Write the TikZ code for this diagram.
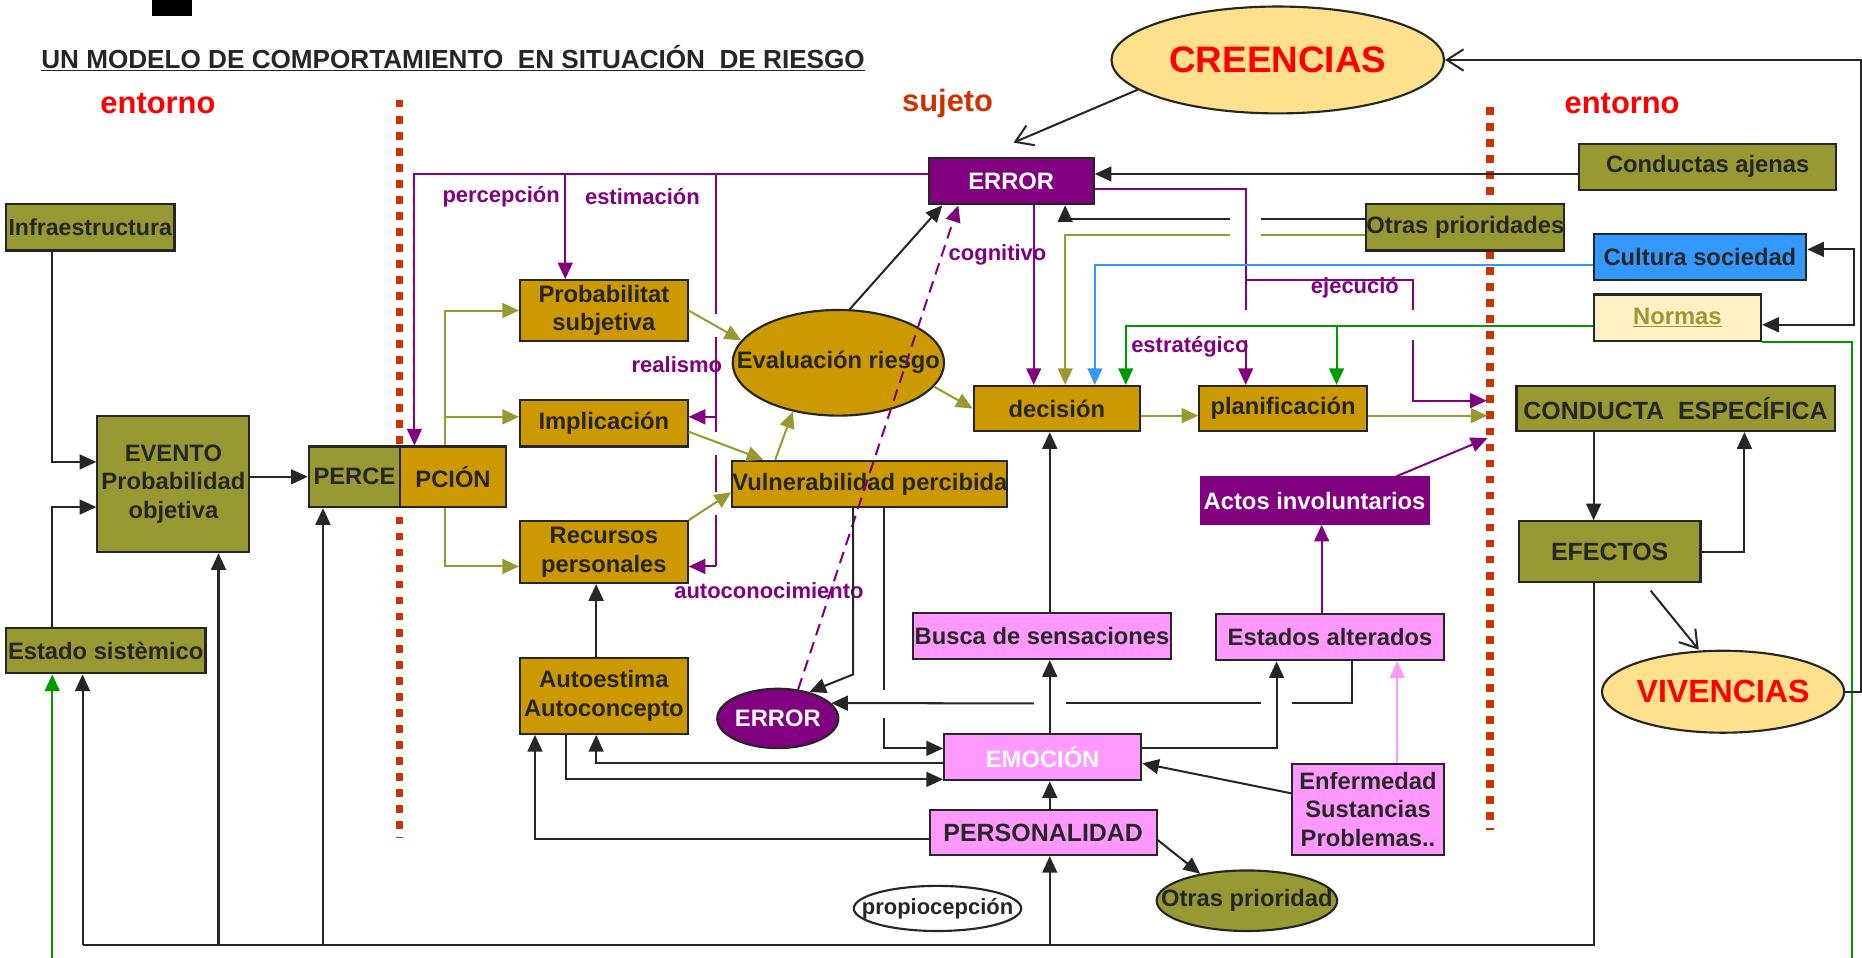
\documentclass[tikz,border=0pt]{standalone}
\usepackage{fontspec}
\setmainfont{Liberation Sans}
\usetikzlibrary{arrows.meta,shapes.geometric}
\definecolor{tinta}{HTML}{262626}
\definecolor{colOlivo}{HTML}{999933}
\definecolor{colDorado}{HTML}{CC9900}
\definecolor{colRosa}{HTML}{FF99FF}
\definecolor{colMorado}{HTML}{800080}
\definecolor{colAzul}{HTML}{3399FF}
\definecolor{colVerde}{HTML}{009900}
\definecolor{colCrema}{HTML}{FFE08C}
\definecolor{colNormas}{HTML}{FFF1C4}
\definecolor{colTeja}{HTML}{CC3300}
\newcommand{\centrado}[1]{\makebox[0pt]{#1}}

\begin{document}
\begin{tikzpicture}[x=1pt,y=-1pt,
		caja/.style={draw=tinta,line width=1.8pt,text=tinta,align=center,inner sep=0pt,font=\bfseries\fontsize{20}{24}\selectfont},
		olivo/.style={caja,fill=colOlivo},
		dorado/.style={caja,fill=colDorado},
		rosado/.style={caja,fill=colRosa},
		morado/.style={caja,fill=colMorado,text=white},
		ovalo/.style={caja,ellipse},
		linea/.style={draw=tinta,line width=1.7pt},
		flecha/.style={linea,-{Triangle[length=14pt,width=12.5pt]}},
		abierta/.style={linea,-{Straight Barb[length=14pt,width=18pt]}},
		plinea/.style={linea,draw=colMorado},
		pflecha/.style={flecha,draw=colMorado},
		oflecha/.style={flecha,draw=colOlivo},
		vflecha/.style={flecha,draw=colVerde},
		rotulo/.style={text=colMorado,inner sep=0pt,font=\bfseries\fontsize{18.5}{20}\selectfont},
		rojo/.style={text=red,inner sep=0pt,font=\bfseries\fontsize{26}{28}\selectfont},
		puntos/.style={draw=colTeja,line width=6.5pt,dash pattern=on 6.5pt off 7pt}]
		\useasboundingbox (0,0) rectangle (1568,806);
		\fill[black] (128,0) rectangle (161.5,13.5);
		\node[anchor=west,inner sep=0pt,text=tinta,font=\bfseries\fontsize{22}{24}\selectfont] (titulo) at (34.6,49) {\underline{UN MODELO DE COMPORTAMIENTO\ \ EN SITUACIÓN\ \ DE RIESGO}};
		\node[rojo] (entIzq) at (133,87) {entorno};
		\node[rojo,text=colTeja] (sujeto) at (798,87) {sujeto};
		\node[rojo] (entDer) at (1366,87) {entorno};
		%
		\draw[puntos] (336.5,84) -- (336.5,706);
		\draw[puntos] (1255,90) -- (1255,699);
		%
		\node[ovalo,fill=colCrema,minimum width=280pt,minimum height=90pt,text=red,font=\bfseries\fontsize{31}{34}\selectfont] (cree) at (1076,50.5) {\centrado{CREENCIAS}};
		\node[morado,minimum width=139pt,minimum height=39pt] (err) at (851.5,152.5) {ERROR};
		\node[olivo,minimum width=216pt,minimum height=39pt] (ajenas) at (1438,140.5) {Conductas ajenas};
		\node[olivo,minimum width=166pt,minimum height=39pt] (otras) at (1234,191.5) {Otras prioridades};
		\node[caja,fill=colAzul,minimum width=179pt,minimum height=39pt] (cult) at (1431.5,216.5) {Cultura sociedad};
		\node[caja,fill=colNormas,text=colOlivo,minimum width=141pt,minimum height=39pt] (normas) at (1412.5,267.5) {\underline{Normas}};
		\node[olivo,minimum width=268pt,minimum height=38pt,font=\bfseries\fontsize{21}{24}\selectfont] (cond) at (1411,344) {CONDUCTA\ \ ESPECÍFICA};
		\node[olivo,minimum width=153pt,minimum height=51pt,font=\bfseries\fontsize{21}{24}\selectfont] (efec) at (1355.5,464.5) {EFECTOS};
		\node[ovalo,fill=colCrema,minimum width=204pt,minimum height=69pt,text=red,font=\bfseries\fontsize{27}{30}\selectfont] (viv) at (1451,582.5) {\centrado{VIVENCIAS}};
		%
		\node[olivo,minimum width=142pt,minimum height=39pt,font=\bfseries\fontsize{19.5}{24}\selectfont] (infra) at (76,191.5) {Infraestructura};
		\node[olivo,minimum width=128pt,minimum height=115pt] (evento) at (146,407.5) {EVENTO\\Probabilidad\\objetiva};
		\node[olivo,minimum width=168pt,minimum height=38pt] (estado) at (89,548) {Estado sistèmico};
		\node[olivo,minimum width=77pt,minimum height=51pt] (perce) at (298.5,401.5) {PERCE};
		\node[dorado,minimum width=89pt,minimum height=51pt] (pcion) at (381.5,401.5) {PCIÓN};
		%
		\node[dorado,minimum width=141pt,minimum height=51pt] (prob) at (508.5,261.5) {Probabilitat\\subjetiva};
		\node[dorado,minimum width=141pt,minimum height=39pt] (impl) at (508.5,356.5) {Implicación};
		\node[dorado,minimum width=141pt,minimum height=52pt] (recur) at (508.5,465) {Recursos\\personales};
		\node[dorado,minimum width=141pt,minimum height=64pt] (autoe) at (508.5,586) {Autoestima\\Autoconcepto};
		\node[ovalo,fill=colDorado,minimum width=178pt,minimum height=89pt] (eval) at (706,305.5) {\centrado{Evaluación riesgo}};
		\node[dorado,minimum width=229pt,minimum height=39pt] (vuln) at (732.5,407.5) {Vulnerabilidad percibida};
		\node[ovalo,fill=colMorado,text=white,minimum width=102pt,minimum height=50pt] (errb) at (655,605) {\centrado{ERROR}};
		\node[dorado,minimum width=140pt,minimum height=38pt] (dec) at (890,344) {decisión};
		\node[dorado,minimum width=141pt,minimum height=38pt] (plan) at (1080.5,344) {planificación};
		%
		\node[morado,draw=colMorado,minimum width=192pt,minimum height=39pt] (actos) at (1107,421.5) {Actos involuntarios};
		\node[rosado,minimum width=217pt,minimum height=39pt] (busca) at (877.5,535.5) {Busca de sensaciones};
		\node[rosado,minimum width=192pt,minimum height=39pt] (estal) at (1120,536.5) {Estados alterados};
		\node[rosado,text=white,minimum width=166pt,minimum height=39pt] (emo) at (878,637.5) {EMOCIÓN};
		\node[rosado,minimum width=191pt,minimum height=38pt,font=\bfseries\fontsize{21}{24}\selectfont] (pers) at (878.5,701) {PERSONALIDAD};
		\node[rosado,minimum width=128pt,minimum height=77pt] (enf) at (1152,681.5) {Enfermedad\\Sustancias\\Problemas..};
		\node[ovalo,fill=colOlivo,minimum width=152pt,minimum height=51pt] (otrp) at (1050,758.5) {\centrado{Otras prioridad}};
		\node[ovalo,fill=white,minimum width=141pt,minimum height=38pt,font=\bfseries\fontsize{18.5}{20}\selectfont] (prop) at (789.5,765) {\centrado{propiocepción}};
		%
		\node[rotulo] (lPer) at (422,165.5) {percepción};
		\node[rotulo] (lEst) at (541,165.5) {estimación};
		\node[rotulo] (lRea) at (570,307) {realismo};
		\node[rotulo] (lCog) at (840,215) {cognitivo};
		\node[rotulo] (lAut) at (647.5,497) {autoconocimiento};
		\node[rotulo] (lEstr) at (1002,292) {estratégico};
		\node[rotulo] (lEje) at (1141,242) {ejecució};
		%
		\draw[flecha] ([xshift=-32pt]infra.south) |- ([yshift=18.5pt]evento.west);
		\draw[flecha] ([xshift=-45pt]estado.north) |- ([yshift=-19.5pt]evento.west);
		\draw[flecha] (evento.east |- perce.west) -- (perce.west);
		\coordinate (rail) at (0,796);
		\coordinate (estB) at ([xshift=-19.5pt]estado.south);
		\coordinate (eveB) at ([xshift=38pt]evento.south);
		\coordinate (perB) at ([xshift=-26.5pt]perce.south);
		\coordinate (eje) at (884,796);
		\draw[linea] ([xshift=-13.5pt]efec.south) |- (estB |- rail);
		\draw[flecha] (estB |- rail) -- (estB);
		\draw[flecha] (eveB |- rail) -- (eveB);
		\draw[flecha] (perB |- rail) -- (perB);
		\draw[flecha] (eje) -- (eje |- pers.south);
		\draw[flecha] (pers.north -| eje) -- (emo.south -| eje);
		\draw[flecha] (emo.north -| eje) -- (busca.south -| eje);
		\draw[flecha] (busca.north -| eje) -- (dec.south -| eje);
		\draw[vflecha] (normas.south east) -| (1559.6,830) -| ([xshift=-45pt]estado.south);
		%
		\coordinate (pc) at ([xshift=-6.5pt]pcion.north);
		\coordinate (implIn) at ([yshift=5.5pt]impl.west);
		\coordinate (recIn) at ([yshift=-12pt]recur.west);
		\draw[oflecha] (pc) |- (prob.west);
		\draw[oflecha] (pc |- implIn) -- (implIn);
		\draw[oflecha] ([xshift=-6.5pt]pcion.south) |- (recIn);
		%
		\coordinate (errO) at ([yshift=6pt]err.west);
		\coordinate (probIn) at ([xshift=-32.5pt]prob.north);
		\draw[pflecha] (errO) -| ([xshift=-32.5pt]pcion.north);
		\draw[pflecha] (probIn |- errO) -- (probIn);
		\draw[plinea] (603,146.5) -- (603,264);
		\draw[plinea] (603,284) -- (603,364);
		\draw[plinea] (603,383) -- (603,414);
		\draw[plinea] (603,434) -- (603,477);
		\draw[pflecha] (603,351) -- ([yshift=5.5pt]impl.east);
		\draw[pflecha] (603,477) -- ([yshift=-12pt]recur.east);
		%
		\coordinate (decP) at ([xshift=-19.5pt]dec.north);
		\coordinate (planP) at ([xshift=-31.5pt]plan.north);
		\draw[pflecha] (decP |- err.south) -- (decP);
		\draw[plinea] ([yshift=-7pt]err.east) -| (1049,261);
		\draw[pflecha] (1049,286) -- (planP);
		\draw[plinea] (1049,235.8) -| (1189.5,261);
		\draw[pflecha] (1189.5,286) |- (1252,337.4);
		\draw[pflecha] ([xshift=69pt]actos.north) -- (1252.6,369);
		\coordinate (estA) at ([xshift=-7pt]estal.north);
		\draw[pflecha] (estA) -- (estA |- actos.south);
		\draw[pflecha,dash pattern=on 10pt off 6pt] (errb.55) -- ([xshift=-44.5pt]err.south);
		%
		\draw[oflecha] (prob.east) -- (eval.167);
		\draw[oflecha] ([yshift=-7pt]impl.east) -- ([xshift=27pt]vuln.north west);
		\draw[oflecha] (recur.north east) -- ([yshift=-7pt]vuln.west);
		\draw[oflecha] ([xshift=37pt]vuln.north west) -- (eval.227);
		\draw[oflecha] (eval.-14) -- (dec.west);
		\draw[oflecha] ([yshift=-6pt]dec.east) -- ([yshift=-6pt]plan.west);
		\draw[oflecha] ([yshift=-6pt]plan.east) -- (1252.6,350);
		%
		\draw[abierta] (cree.192) -- ([xshift=2pt,yshift=12pt]err.north);
		\draw[flecha] ([yshift=-6pt]ajenas.west) -- ([yshift=6pt]err.east);
		\draw[flecha] (eval.78) -- ([xshift=-58pt]err.south);
		\draw[linea] ([yshift=7pt]otras.west) -- (1062,184.5);
		\draw[flecha] (1036,184.5) -| ([xshift=45.5pt]err.south);
		\draw[linea,draw=colOlivo] ([yshift=-6pt]otras.west) -- (1062,197.5);
		\draw[oflecha] (1036,197.5) -| ([xshift=7pt]dec.north);
		\draw[flecha,draw=colAzul] ([yshift=-6.5pt]cult.west) -| ([xshift=32pt]dec.north);
		\coordinate (normO) at ([yshift=-7pt]normas.west);
		\coordinate (planV) at ([xshift=45pt]plan.north);
		\draw[vflecha] (normO) -| ([xshift=58pt]dec.north);
		\draw[vflecha] (planV |- normO) -- (planV);
		\draw[linea,{Triangle[length=14pt,width=12.5pt]}-{Triangle[length=14pt,width=12.5pt]}] ([yshift=6.5pt]cult.east) -- ++(39,0) |- ([yshift=-6pt]normas.east);
		%
		\coordinate (efV) at ([xshift=-13.5pt]efec.north);
		\draw[flecha] (efV |- cond.south) -- (efV);
		\draw[flecha] (efec.east) -| ([xshift=58pt]cond.south);
		\draw[abierta] ([xshift=34.5pt,yshift=-6.5pt]efec.south) -- ([xshift=-20.5pt]viv.north);
		\draw[abierta] (viv.east) -- ++(13,0) |- (cree.east);
		%
		\draw[flecha] ([xshift=-14pt]vuln.south) -- ++(0,140) -- (errb.40);
		\draw[linea] ([xshift=11.5pt]vuln.south) -- ++(0,153);
		\draw[flecha] (744,605) |- ([yshift=7.3pt]emo.west);
		\draw[flecha] ([yshift=7.3pt]emo.east) -| ([xshift=-45pt]estal.south);
		\draw[linea] ([xshift=18.6pt]estal.south) |- (1088,592.3);
		\draw[linea] (1062,592.3) -- (897.3,592.3);
		\draw[flecha] (870.6,592.3) -- (errb.16);
		\draw[flecha] ([xshift=-32pt]autoe.south) |- ([yshift=-18.8pt]emo.west);
		\draw[flecha] ([yshift=-5.3pt]emo.west) -| ([xshift=-6.5pt]autoe.south);
		\draw[flecha] ([yshift=-5.8pt]pers.west) -| ([xshift=-58pt]autoe.south);
		\draw[flecha] ([xshift=-6.5pt]autoe.north) -- ([xshift=-6.5pt]recur.south);
		\draw[flecha] ([yshift=13.5pt]enf.west) -- ([yshift=-5.3pt]emo.east);
		\coordinate (enfA) at ([xshift=24.6pt]enf.north);
		\draw[flecha,draw=colRosa] (enfA) -- (enfA |- estal.south);
		\draw[flecha] ([yshift=-6.4pt]pers.east) -- (otrp.150);
	\end{tikzpicture}
\end{document}
